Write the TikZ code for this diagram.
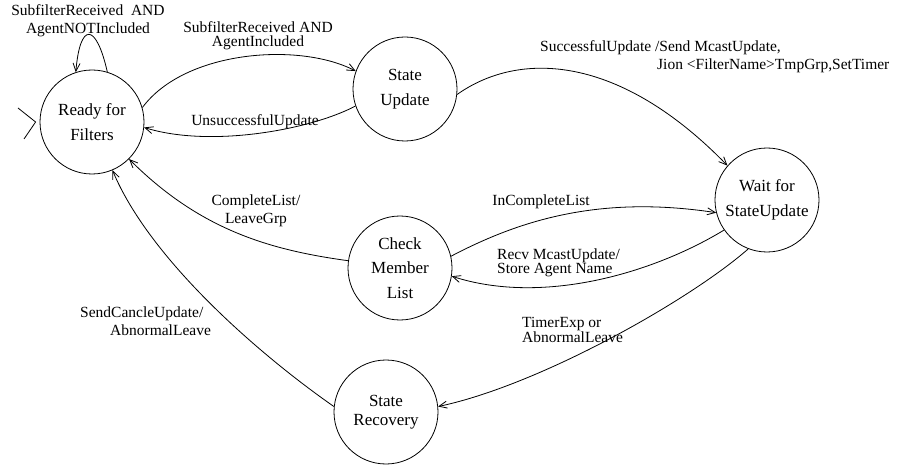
\documentclass[tikz,border=0pt]{standalone}
\usepackage{fontspec}
\setmainfont{Liberation Serif}
\usetikzlibrary{arrows.meta}
\begin{document}
\begin{tikzpicture}[x=1pt,y=-1pt,
  state/.style={draw,circle,minimum size=104pt,inner sep=0pt,align=center,
    font=\fontsize{17}{24.5}\selectfont,line width=0.8pt},
  trans/.style={draw,line width=0.8pt,-{Straight Barb[length=8pt,width=7pt]}},
  lbl/.style={font=\fontsize{15.5}{18}\selectfont,inner sep=0pt},
  tight/.style={font=\fontsize{15.5}{14}\selectfont,inner sep=0pt}]
\useasboundingbox (0,0) rectangle (898,468);
% states
\node[state] (ready) at (92,122) {Ready for\\Filters};
\node[state] (su) at (405,89) {State\\Update};
\node[state] (wait) at (767,200) {Wait for\\StateUpdate};
\node[state] (check) at (400,268) {Check\\Member\\List};
\node[state,font=\fontsize{17}{19}\selectfont] (rec) at (386,412) {State\\Recovery};
% initial marker
\coordinate (init) at ([xshift=-4pt]ready.west);
\draw[line width=0.8pt] (18,108) -- (init) -- (24,139);
% transitions
\draw[trans] (ready.73) .. controls (96,22) and (80,22) .. (ready.108);
\draw[trans] (ready.16) .. controls (185,50) and (300,42) .. (su.160);
\draw[trans] (su.199) .. controls (310,130) and (210,148) .. (ready.-6);
\draw[trans] (su.-6) .. controls (520,50) and (620,55) .. (wait.139);
\draw[trans] (check.13) .. controls (520,220) and (600,195) .. (wait.194);
\draw[trans] (wait.215) .. controls (650,275) and (540,305) .. (check.-9);
\draw[trans] (wait.249) .. controls (690,300) and (540,385) .. (rec.6);
\draw[trans] (check.172) .. controls (270,250) and (200,230) .. (ready.-45);
\draw[trans] (rec.174) .. controls (260,355) and (150,260) .. (ready.-67);
% labels
\node[lbl,align=center] (l1) at (88,21) {SubfilterReceived\ \ AND\\AgentNOTIncluded};
\node[tight,align=center] (l2) at (258,36) {SubfilterReceived AND\\AgentIncluded};
\node[lbl] (l3) at (255,122) {UnsuccessfulUpdate};
\node[lbl,align=left,anchor=west] (l4) at (540,57) {SuccessfulUpdate /Send McastUpdate,\\\hspace*{117pt}Jion <FilterName>TmpGrp,SetTimer};
\node[lbl] (l5) at (541,202) {InCompleteList};
\node[tight,align=left,anchor=west] (l6) at (497,263) {Recv McastUpdate/\\Store Agent Name};
\node[tight,align=left,anchor=west] (l7) at (522,330) {TimerExp or\\AbnormalLeave};
\node[lbl,align=center] (l8) at (256,211) {CompleteList/\\LeaveGrp};
\node[lbl,align=left,anchor=west] (l9) at (80,321) {SendCancleUpdate/\\\hspace*{30pt}AbnormalLeave};
\end{tikzpicture}
\end{document}
